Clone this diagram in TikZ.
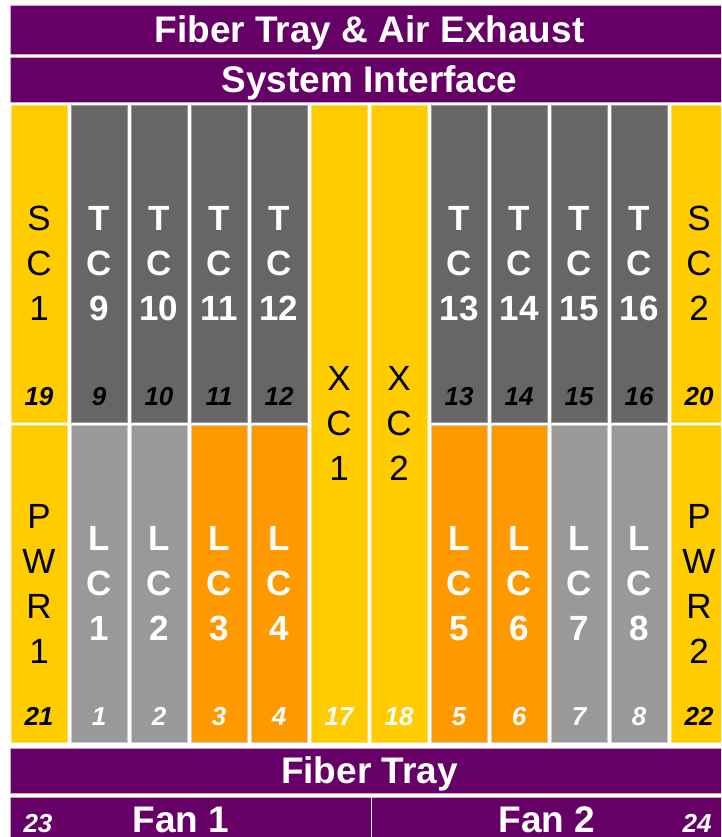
\documentclass[tikz,border=0pt]{standalone}
\usepackage{fontspec}
\setmainfont{Liberation Sans}

\definecolor{barpurple}{HTML}{660066}
\definecolor{barline}{HTML}{C8A8C8}
\definecolor{scyellow}{HTML}{FFCC00}
\definecolor{tcgray}{HTML}{666666}
\definecolor{lcgray}{HTML}{999999}
\definecolor{lcorange}{HTML}{FF9900}

\begin{document}
\begin{tikzpicture}[x=1pt, y=-1pt,
        bar/.style={fill=barpurple, draw=barline, line width=0.8pt, minimum width=719pt,
            inner sep=0pt, text=white, font=\fontsize{37}{40}\selectfont\bfseries,
            text height=26.5pt, text depth=0pt},
        fanlabel/.style={anchor=base, inner sep=0pt, text=white,
            font=\fontsize{37}{40}\selectfont\bfseries, text height=26.5pt, text depth=0pt},
        slot/.style={rectangle, minimum width=56pt, inner sep=0pt, align=center,
            line width=0.8pt, font=\fontsize{35}{45}\selectfont},
        yellowcard/.style={slot, fill=scyellow, draw=scyellow!60!white, text=black},
        tcard/.style={slot, fill=tcgray, draw=lcgray, text=white, font=\fontsize{35}{45}\selectfont\bfseries},
        lcard/.style={slot, draw=lcgray!50!white, text=white, font=\fontsize{35}{45}\selectfont\bfseries},
        slotno/.style={inner sep=0pt, font=\fontsize{26}{30}\selectfont\bfseries\itshape,
            text height=18.5pt, text depth=0pt}]

    \useasboundingbox (0, 0) rectangle (721, 837);
    \clip (0, 0) rectangle (721, 837);

    % 上の帯
    \node[bar, minimum height=49pt] (exhaust) at (369.5, 29.5) {Fiber Tray \& Air Exhaust};
    \node[bar, minimum height=45pt] (sysif) at (369.5, 79.5) {System Interface};

    % SC
    \foreach \c/\n/\sn in {0/1/19, 11/2/20} {
        \node[yellowcard, minimum height=317pt] (sc\n) at (39+60*\c, 263.5) {S\\C\\\n};
        \node[slotno] (no\sn) at ([yshift=26pt]sc\n.south) {\sn};
    }

    % TC
    \foreach \c/\n in {1/9, 2/10, 3/11, 4/12, 7/13, 8/14, 9/15, 10/16} {
        \node[tcard, minimum height=317pt] (tc\n) at (39+60*\c, 263.5) {T\\C\\\n};
        \node[slotno] (no\n) at ([yshift=26pt]tc\n.south) {\n};
    }

    % XC
    \foreach \c/\n/\sn in {5/1/17, 6/2/18} {
        \node[yellowcard, minimum height=637pt] (xc\n) at (39+60*\c, 423.5) {X\\C\\\n};
        \node[slotno, text=white] (no\sn) at ([yshift=26pt]xc\n.south) {\sn};
    }

    % PWR
    \foreach \c/\n/\sn in {0/1/21, 11/2/22} {
        \node[yellowcard, minimum height=317pt] (pwr\n) at (39+60*\c, 583.5) {P\\W\\R\\\n};
        \node[slotno] (no\sn) at ([yshift=26pt]pwr\n.south) {\sn};
    }

    % LC
    \foreach \c/\n/\f in {1/1/lcgray, 2/2/lcgray, 3/3/lcorange, 4/4/lcorange,
            7/5/lcorange, 8/6/lcorange, 9/7/lcgray, 10/8/lcgray} {
        \node[lcard, fill=\f, minimum height=317pt] (lc\n) at (39+60*\c, 583.5) {L\\C\\\n};
        \node[slotno, text=white] (nolc\n) at ([yshift=26pt]lc\n.south) {\n};
    }

    % 下の帯
    \node[bar, minimum height=45pt] (tray) at (369.5, 770.5) {Fiber Tray};
    \filldraw[fill=barpurple, draw=barline, line width=0.8pt] (10, 797) rectangle (729, 850);
    \draw[white, line width=1pt] (371, 797) -- (371, 850);

    % ファン
    \node[fanlabel] (fan1) at (181, 832) {Fan 1};
    \node[fanlabel] (fan2) at (547, 832) {Fan 2};
    \node[slotno, anchor=base, text=white] (no23) at (38, 832) {23};
    \node[slotno, anchor=base, text=white] (no24) at (697, 832) {24};

\end{tikzpicture}
\end{document}
